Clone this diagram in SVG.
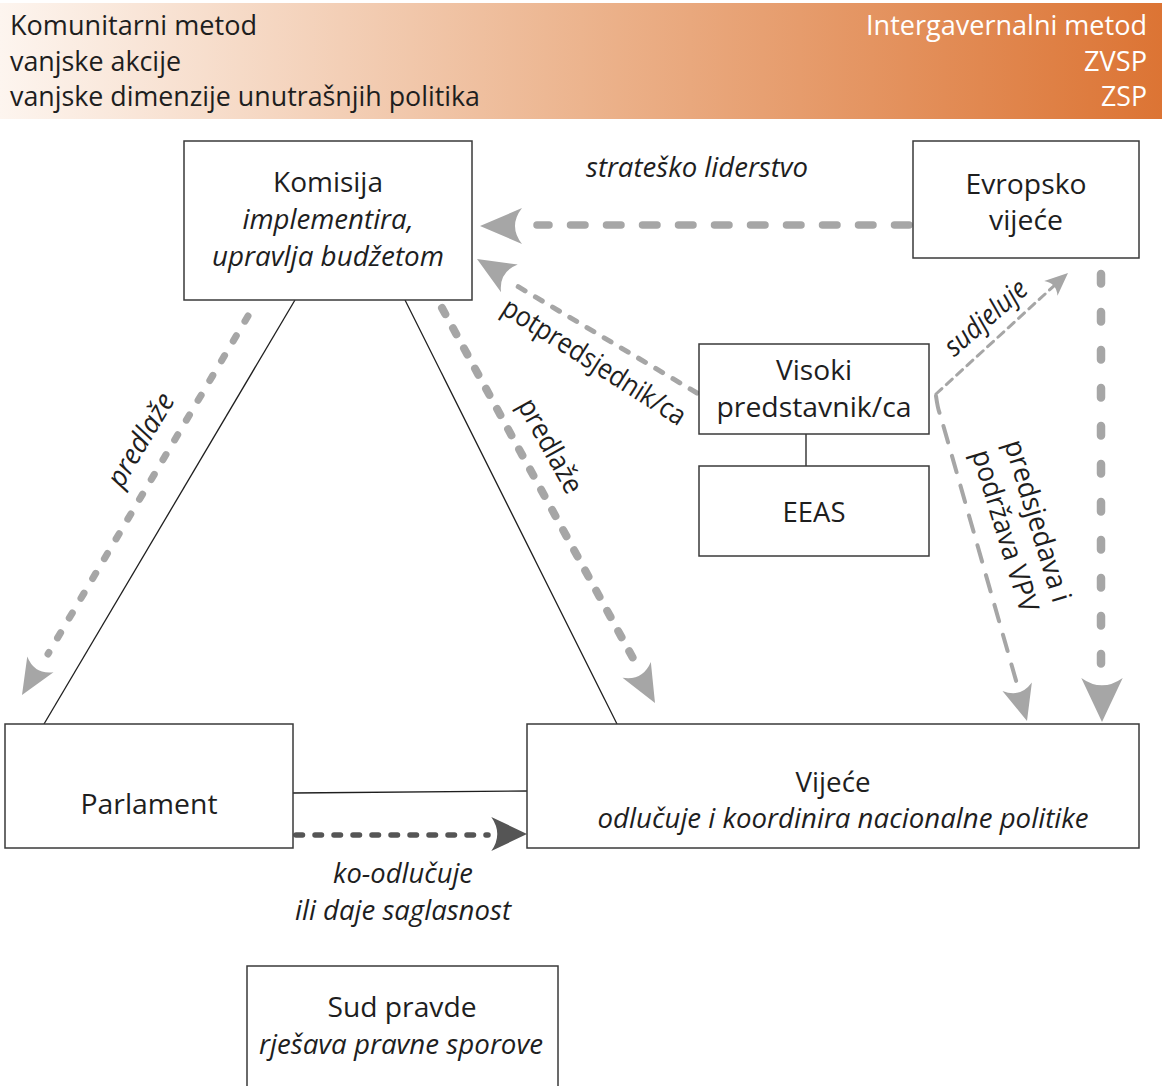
<svg xmlns="http://www.w3.org/2000/svg" xmlns:xlink="http://www.w3.org/1999/xlink" width="1162" height="1086" viewBox="0 0 1162 1086">
<style>
  text { font-family: "Open Sans", "Liberation Sans", sans-serif; font-size: 28px; fill: #1e1e1e; }
  .it { font-style: italic; }
  .mid { text-anchor: middle; }
  .hdr { font-size: 28px; }
  .wh { fill: #ffffff; text-anchor: end; }
  .box { fill: #ffffff; stroke: #3a3a3a; stroke-width: 1.5; }
  .thin { stroke: #1e1e1e; stroke-width: 1.3; fill: none; }
  .dash { fill: none; stroke: #a6a6a6; stroke-linecap: round; }
  .ah { fill: #a6a6a6; }
  .ahd { fill: #555555; }
</style>
<defs>
  <linearGradient id="hg" x1="0" y1="0" x2="1" y2="0">
    <stop offset="0" stop-color="#fdf5ef"/>
    <stop offset="0.5" stop-color="#ecb48e"/>
    <stop offset="1" stop-color="#dc7434"/>
  </linearGradient>
  <path id="arrow" d="M0,0 L-42,-18 Q-28,0 -42,18 Z"/>
</defs>

<rect x="0" y="3" width="1162" height="116" fill="url(#hg)"/>
<g id="header">
  <text class="hdr" x="10" y="35" textLength="247" lengthAdjust="spacingAndGlyphs">Komunitarni metod</text>
  <text class="hdr" x="10" y="71" textLength="171" lengthAdjust="spacingAndGlyphs">vanjske akcije</text>
  <text class="hdr" x="10" y="106" textLength="470" lengthAdjust="spacingAndGlyphs">vanjske dimenzije unutrašnjih politika</text>
  <text class="hdr wh" x="1147" y="35" textLength="281" lengthAdjust="spacingAndGlyphs">Intergavernalni metod</text>
  <text class="hdr wh" x="1147" y="71" textLength="63" lengthAdjust="spacingAndGlyphs">ZVSP</text>
  <text class="hdr wh" x="1147" y="106" textLength="46" lengthAdjust="spacingAndGlyphs">ZSP</text>
</g>

<g id="connectors">
  <!-- thin solid lines -->
  <line class="thin" x1="295" y1="300" x2="44" y2="724"/>
  <line class="thin" x1="405" y1="300" x2="617" y2="724"/>
  <line class="thin" x1="293" y1="793" x2="530" y2="791"/>
  <line class="thin" x1="806" y1="434" x2="806" y2="466"/>

  <!-- Evropsko vijece -> Komisija -->
  <path class="dash" d="M909,225 L537,225" stroke-width="7.5" stroke-dasharray="14.5 21.5"/>
  <use xlink:href="#arrow" class="ah" transform="translate(480,226) rotate(180)"/>

  <!-- Visoki -> Komisija (potpredsjednik/ca) -->
  <path class="dash" d="M697,393 L512,283" stroke-width="5" stroke-dasharray="8 12"/>
  <use xlink:href="#arrow" class="ah" transform="translate(477,259) rotate(211) scale(0.9)"/>

  <!-- Komisija -> Parlament (predlaze) -->
  <path class="dash" d="M248,316 L48,654" stroke-width="7" stroke-dasharray="6 17"/>
  <use xlink:href="#arrow" class="ah" transform="translate(22,695) rotate(121) scale(0.85)"/>

  <!-- Komisija -> Vijece (predlaze) -->
  <path class="dash" d="M442,308 L634,660" stroke-width="8" stroke-dasharray="7 16"/>
  <use xlink:href="#arrow" class="ah" transform="translate(655,703) rotate(61) scale(0.9)"/>

  <!-- Visoki -> Evropsko vijece (sudjeluje) -->
  <path class="dash" d="M936,394 L1056,284" stroke-width="3" stroke-dasharray="8 6" stroke-linecap="butt"/>
  <use xlink:href="#arrow" class="ah" transform="translate(1068,273) rotate(-42) scale(0.55)"/>

  <!-- Visoki -> Vijece (predsjedava) -->
  <path class="dash" d="M936,396 Q938,410 940,414 L1017,684" stroke-width="4" stroke-dasharray="17 14" stroke-linecap="butt"/>
  <use xlink:href="#arrow" class="ah" transform="translate(1027,721) rotate(74) scale(0.85)"/>

  <!-- Evropsko vijece -> Vijece -->
  <path class="dash" d="M1101,274 L1101,664" stroke-width="8.5" stroke-dasharray="9.5 28.5"/>
  <use xlink:href="#arrow" class="ah" transform="translate(1102,722) rotate(90) scale(1.05,1.15)"/>

  <!-- Parlament -> Vijece (ko-odlucuje) -->
  <path class="dash" d="M296,835 L488,835" stroke-width="5.5" stroke-dasharray="6.5 12.5" style="stroke:#555555"/>
  <use xlink:href="#arrow" class="ahd" transform="translate(527,834) scale(0.85,0.95)"/>

  <!-- connector labels -->
  <text class="it mid" x="697" y="177" textLength="222" lengthAdjust="spacingAndGlyphs">strateško liderstvo</text>
  <text class="mid" transform="translate(594,362) rotate(32.5)" x="0" y="9" textLength="212" lengthAdjust="spacingAndGlyphs">potpredsjednik/ca</text>
  <text class="it mid" transform="translate(141,440) rotate(-59)" x="0" y="9" textLength="104" lengthAdjust="spacingAndGlyphs">predlaže</text>
  <text class="mid" transform="translate(550,446) rotate(61)" x="0" y="9" textLength="104" lengthAdjust="spacingAndGlyphs">predlaže</text>
  <text class="it mid" transform="translate(986,318) rotate(-41)" x="0" y="9" textLength="100" lengthAdjust="spacingAndGlyphs">sudjeluje</text>
  <g transform="translate(1021,526) rotate(73)">
    <text class="mid" x="0" y="-8" textLength="168" lengthAdjust="spacingAndGlyphs">predsjedava i</text>
    <text class="mid" x="0" y="26" textLength="168" lengthAdjust="spacingAndGlyphs">podržava VPV</text>
  </g>
  <text class="it mid" x="403" y="883" textLength="140" lengthAdjust="spacingAndGlyphs">ko-odlučuje</text>
  <text class="it mid" x="403" y="920" textLength="216" lengthAdjust="spacingAndGlyphs">ili daje saglasnost</text>
</g>

<g id="komisija">
  <rect class="box" x="184" y="141" width="288" height="159"/>
  <text class="mid" x="328" y="192" textLength="110" lengthAdjust="spacingAndGlyphs">Komisija</text>
  <text class="it mid" x="328" y="229" textLength="171" lengthAdjust="spacingAndGlyphs">implementira,</text>
  <text class="it mid" x="328" y="266" textLength="232" lengthAdjust="spacingAndGlyphs">upravlja budžetom</text>
</g>

<g id="evropsko-vijece">
  <rect class="box" x="913" y="141" width="226" height="117"/>
  <text class="mid" x="1026" y="194" textLength="121" lengthAdjust="spacingAndGlyphs">Evropsko</text>
  <text class="mid" x="1026" y="230" textLength="74" lengthAdjust="spacingAndGlyphs">vijeće</text>
</g>

<g id="visoki-predstavnik">
  <rect class="box" x="699" y="344" width="230" height="90"/>
  <text class="mid" x="814" y="380" textLength="76" lengthAdjust="spacingAndGlyphs">Visoki</text>
  <text class="mid" x="814" y="417" textLength="195" lengthAdjust="spacingAndGlyphs">predstavnik/ca</text>
</g>

<g id="eeas">
  <rect class="box" x="699" y="466" width="230" height="90"/>
  <text class="mid" x="814" y="522" textLength="63" lengthAdjust="spacingAndGlyphs">EEAS</text>
</g>

<g id="parlament">
  <rect class="box" x="5" y="724" width="288" height="124"/>
  <text class="mid" x="149" y="814" textLength="137" lengthAdjust="spacingAndGlyphs">Parlament</text>
</g>

<g id="vijece">
  <rect class="box" x="527" y="724" width="612" height="124"/>
  <text class="mid" x="833" y="792" textLength="75" lengthAdjust="spacingAndGlyphs">Vijeće</text>
  <text class="it mid" x="843" y="828" textLength="491" lengthAdjust="spacingAndGlyphs">odlučuje i koordinira nacionalne politike</text>
</g>

<g id="sud-pravde">
  <rect class="box" x="247" y="966" width="311" height="130"/>
  <text class="mid" x="402" y="1017" textLength="149" lengthAdjust="spacingAndGlyphs">Sud pravde</text>
  <text class="it mid" x="401" y="1054" textLength="284" lengthAdjust="spacingAndGlyphs">rješava pravne sporove</text>
</g>
</svg>
